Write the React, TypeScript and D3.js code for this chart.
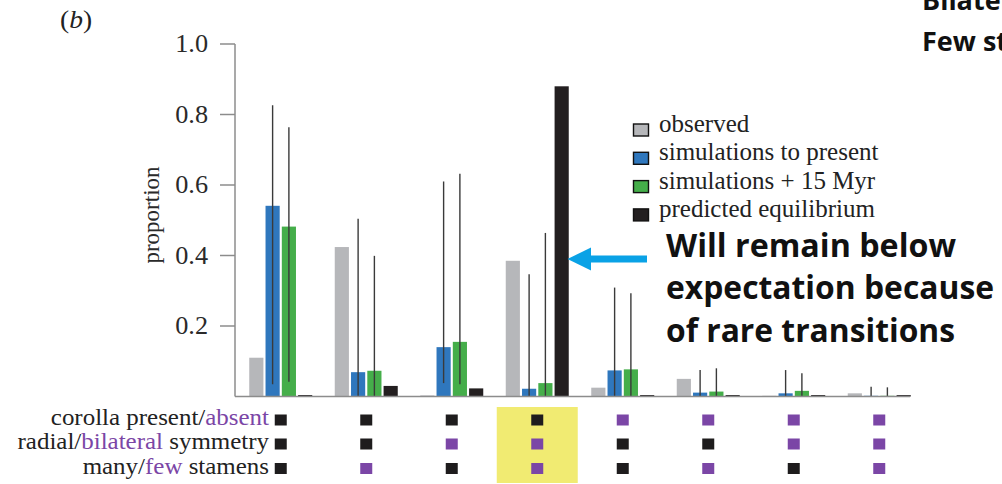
import React from "react";
import * as d3 from "d3";

// ---- data ----
const groups = ["G1", "G2", "G3", "G4", "G5", "G6", "G7", "G8"];
const corolla = ["present", "present", "present", "present", "absent", "absent", "absent", "absent"];
const symmetry = ["radial", "radial", "bilateral", "bilateral", "radial", "radial", "bilateral", "bilateral"];
const stamens = ["many", "few", "many", "few", "many", "few", "many", "few"];

const observed = [0.11, 0.424, 0.003, 0.385, 0.025, 0.05, 0.002, 0.009];
const simPresent = [0.541, 0.069, 0.14, 0.022, 0.074, 0.011, 0.009, 0.002];
const simPresentLo = [0.035, 0, 0.038, 0, 0, 0, 0, 0];
const simPresentHi = [0.826, 0.504, 0.61, 0.347, 0.309, 0.075, 0.075, 0.028];
const sim15 = [0.482, 0.073, 0.155, 0.038, 0.077, 0.014, 0.016, 0.002];
const sim15Lo = [0.042, 0, 0.035, 0, 0, 0, 0, 0];
const sim15Hi = [0.764, 0.399, 0.632, 0.464, 0.293, 0.08, 0.066, 0.026];
const equilibrium = [0.004, 0.03, 0.023, 0.88, 0.004, 0.004, 0.004, 0.004];

const seriesNames = ["observed", "simulations to present", "simulations + 15 Myr", "predicted equilibrium"];
const seriesColors = ["#b6b7ba", "#2f77bd", "#45ae4a", "#231f20"];
const yTicks = [0.2, 0.4, 0.6, 0.8, 1.0];
const highlightGroup = "G4";
const annotationLines = ["Will remain below", "expectation because", "of rare transitions"];

const W = 1002;
const H = 484;
const SERIF = "'Liberation Serif', 'DejaVu Serif', serif";
const SANS = "'Open Sans', 'Noto Sans', sans-serif";
const PURPLE = "#7b46a6";
const DARK = "#1e1c1d";

export default function App() {
  const y = d3.scaleLinear().domain([0, 1]).range([396.5, 44]);
  const x = d3.scaleBand<string>().domain(groups).range([238, 922]).padding(0);
  const inner = d3.scaleBand<string>().domain(seriesNames).range([-31.5, 31.5]).paddingInner(0.13);
  const values = [observed, simPresent, sim15, equilibrium];
  const errs: Record<number, [number[], number[]]> = { 1: [simPresentLo, simPresentHi], 2: [sim15Lo, sim15Hi] };
  const cx = (g: string) => (x(g) as number) + x.bandwidth() / 2;
  const axisColor = "#8c8c8c";
  const rowsY = [425, 449, 473.5];
  const traitRows = [corolla, symmetry, stamens];
  const altValue = ["absent", "bilateral", "few"];

  const stretched = (tx: number, ty: number, s = 1) => `translate(${tx},${ty}) scale(${s},1)`;

  return (
    <svg width={W} height={H} style={{ position: "absolute", left: 0, top: 0, background: "#fff" }}>
      <rect width={W} height={H} fill="#fff" />
      {/* highlight */}
      <rect x={cx(highlightGroup) - 40.5} y={407} width={81} height={76} fill="#f1eb72" />

      {/* panel label */}
      <text transform={stretched(60, 28, 1.1)} fontFamily={SERIF} fontSize={25} fill="#222">
        (<tspan fontStyle="italic">b</tspan>)
      </text>

      {/* y axis */}
      <line x1={235} x2={235} y1={y(1)} y2={y(0)} stroke={axisColor} strokeWidth={1.5} />
      {yTicks.map((t) => (
        <g key={t}>
          <line x1={220} x2={235} y1={y(t)} y2={y(t)} stroke={axisColor} strokeWidth={1.5} />
          <text transform={stretched(208, y(t) + 8, 1.05)} textAnchor="end" fontFamily={SERIF} fontSize={25} fill="#2a2a2a">
            {d3.format(".1f")(t)}
          </text>
        </g>
      ))}
      <text transform={`translate(159,215) rotate(-90)`} textAnchor="middle" fontFamily={SERIF} fontSize={23} fill="#2a2a2a">
        proportion
      </text>

      {/* bars */}
      {groups.map((g, gi) =>
        seriesNames.map((s, si) => {
          const v = values[si][gi];
          const bx = cx(g) + (inner(s) as number);
          return (
            <rect key={g + s} x={bx} y={y(v)} width={inner.bandwidth()} height={y(0) - y(v)} fill={seriesColors[si]} />
          );
        })
      )}
      {/* error bars */}
      {groups.map((g, gi) =>
        [1, 2].map((si) => {
          const [lo, hi] = errs[si];
          const ex = cx(g) + (inner(seriesNames[si]) as number) + inner.bandwidth() / 2;
          return (
            <line key={g + si} x1={ex} x2={ex} y1={y(lo[gi])} y2={y(hi[gi])} stroke="#3a3a3a" strokeWidth={1.4} />
          );
        })
      )}
      {/* x baseline */}
      <line x1={235} x2={910} y1={y(0)} y2={y(0)} stroke={axisColor} strokeWidth={1.5} />

      {/* legend */}
      {seriesNames.map((s, i) => {
        const by = 132 + i * 28.3;
        return (
          <g key={s}>
            <rect x={633.5} y={by - 8} width={15} height={12} fill={seriesColors[i]} stroke="#111" strokeWidth={1.4} />
            <text transform={stretched(659, by)} fontFamily={SERIF} fontSize={25} fill="#222">
              {s}
            </text>
          </g>
        );
      })}

      {/* row labels */}
      <text transform={stretched(269, rowsY[0], 1.04)} textAnchor="end" fontFamily={SERIF} fontSize={24} fill="#222">
        corolla present/<tspan fill={PURPLE}>absent</tspan>
      </text>
      <text transform={stretched(269, rowsY[1], 1.04)} textAnchor="end" fontFamily={SERIF} fontSize={24} fill="#222">
        radial/<tspan fill={PURPLE}>bilateral</tspan> symmetry
      </text>
      <text transform={stretched(269, rowsY[2], 1.04)} textAnchor="end" fontFamily={SERIF} fontSize={24} fill="#222">
        many/<tspan fill={PURPLE}>few</tspan> stamens
      </text>

      {/* trait markers */}
      {traitRows.map((row, ri) =>
        groups.map((g, gi) => (
          <rect
            key={ri + g}
            x={cx(g) - 6}
            y={rowsY[ri] - 10.5}
            width={12}
            height={11}
            fill={row[gi] === altValue[ri] ? PURPLE : DARK}
          />
        ))
      )}

      {/* annotation arrow */}
      <line x1={588} x2={647} y1={259} y2={259} stroke="#0aa2e6" strokeWidth={7} />
      <path d="M567.5,259 L591,247.5 L591,270.5 Z" fill="#0aa2e6" />

      {/* annotation text */}
      {annotationLines.map((t, i) => (
        <text
          key={t}
          x={666}
          y={[257, 299, 342][i]}
          fontFamily={SANS}
          fontWeight={700}
          fontSize={32}
          fill="#111"
          textLength={[290, 328, 289][i]}
          lengthAdjust="spacingAndGlyphs"
        >
          {t}
        </text>
      ))}
      <text x={922} y={10} fontFamily={SANS} fontWeight={700} fontSize={27} fill="#111">
        Bilateral
      </text>
      <text x={922} y={51} fontFamily={SANS} fontWeight={700} fontSize={27} fill="#111">
        Few stamens
      </text>
    </svg>
  );
}
